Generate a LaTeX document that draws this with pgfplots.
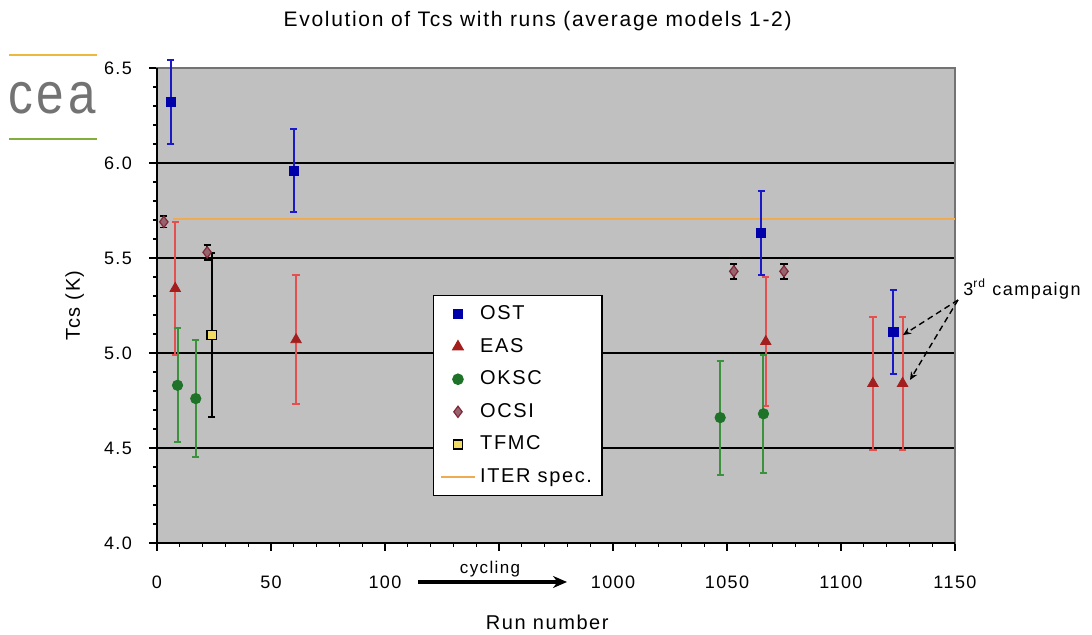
\documentclass[border=0pt]{standalone}
\usepackage{fontspec}
\setmainfont{Liberation Sans}[LetterSpace=8]
\usepackage{pgfplots}
\pgfplotsset{compat=1.18}
\usetikzlibrary{arrows.meta}
\definecolor{bggray}{RGB}{192,192,192}
\definecolor{ostmark}{RGB}{0,0,170}
\definecolor{ostbar}{RGB}{25,25,200}
\definecolor{easmark}{RGB}{165,30,30}
\definecolor{easbar}{RGB}{228,80,80}
\definecolor{oksmark}{RGB}{30,115,40}
\definecolor{oksbar}{RGB}{60,145,60}
\definecolor{ocsifill}{RGB}{150,100,110}
\definecolor{ocsidraw}{RGB}{130,40,55}
\definecolor{tfmcfill}{RGB}{240,220,100}
\definecolor{iter}{RGB}{240,170,80}
\definecolor{logoorange}{RGB}{235,185,60}
\definecolor{logogreen}{RGB}{130,175,60}
\begin{document}
\begin{tikzpicture}[x=1pt,y=1pt]
\useasboundingbox (-78.5,-46) rectangle (467.5,271.5);
\begin{axis}[
  at={(0,0)}, anchor=south west,
  scale only axis, width=399pt, height=237.5pt,
  xmin=0, xmax=350, ymin=4, ymax=6.5,
  enlargelimits=false, clip=false,
  % broken axis: runs 1000..1150 are drawn 800 units to the left
  x filter/.expression={x>500 ? x-800 : x},
  axis background/.style={fill=bggray},
  axis line style={draw=black!55, line width=0.8pt},
  xtick={0,50,100,150,200,250,300,350},
  xticklabels={0,50,100,{},1000,1050,1100,1150},
  minor x tick num=4,
  ytick={4,4.5,5,5.5,6,6.5},
  minor y tick num=4,
  yticklabel style={xshift=-5pt, /pgf/number format/fixed, /pgf/number format/fixed zerofill, /pgf/number format/precision=1},
  /pgf/number format/assume math mode=true,
  tick align=outside,
  major tick length=4pt, minor tick length=2pt,
  tick style={black, line width=0.6pt},
  xtick pos=bottom, ytick pos=left,
  ymajorgrids, major grid style={black, line width=0.9pt},
  tick label style={font=\fontsize{9}{10}\selectfont},
  xticklabel style={yshift=-9pt},
  title={Evolution of Tcs with runs (average models 1-2)},
  title style={at={(axis description cs:0.477,1.102)}, anchor=center, yshift=-6.75pt, font=\fontsize{10.5}{12}\selectfont},
  xlabel={Run number},
  xlabel style={at={(axis description cs:0.489,-0.168)}, anchor=center, font=\fontsize{10}{11}\selectfont},
  ylabel={Tcs (K)},
  ylabel style={at={(axis description cs:-0.103,0.5)}, anchor=center, font=\fontsize{10}{11}\selectfont},
  legend style={at={(0.346,0.522)}, anchor=north west, draw=black, line width=0.6pt, fill=white,
    font=\fontsize{10}{11}\selectfont, row sep=3.8pt, inner sep=3pt},
  legend cell align=left,
]
% ITER spec line (drawn first, legend entry added at the end)
\addplot[iter, line width=1.2pt, forget plot] coordinates {(7,5.705) (1150,5.705)};

% OST
\addplot[ostmark, only marks, mark=square*, mark size=2.3pt,
  mark options={fill=ostmark, draw=ostmark},
  error bars/.cd, y dir=both, y explicit,
  error bar style={ostbar, line width=1pt},
  error mark options={rotate=90, ostbar, mark size=1.8pt, line width=1pt}]
  coordinates {(6,6.32) +- (0,0.22) (60,5.96) +- (0,0.22) (1065,5.63) +- (0,0.22) (1123,5.11) +- (0,0.22)};
\addlegendentry{OST}

% EAS
\addplot[easmark, only marks, mark=triangle*, mark size=3pt,
  mark options={fill=easmark, draw=easmark},
  error bars/.cd, y dir=both, y explicit,
  error bar style={easbar, line width=1pt},
  error mark options={rotate=90, easbar, mark size=1.8pt, line width=1pt}]
  coordinates {(8,5.34) +- (0,0.35) (61,5.07) +- (0,0.34) (1067,5.06) +- (0,0.34) (1114,4.84) +- (0,0.35) (1127,4.84) +- (0,0.35)};
\addlegendentry{EAS}

% OKSC
\addplot[oksmark, only marks, mark=*, mark size=2.6pt,
  mark options={fill=oksmark, draw=oksmark},
  error bars/.cd, y dir=both, y explicit,
  error bar style={oksbar, line width=1pt},
  error mark options={rotate=90, oksbar, mark size=1.8pt, line width=1pt}]
  coordinates {(9,4.83) +- (0,0.30) (17,4.76) +- (0,0.31) (1047,4.66) +- (0,0.30) (1066,4.68) +- (0,0.31)};
\addlegendentry{OKSC}

% OCSI
\addplot[ocsidraw, only marks, mark=diamond*, mark size=2.8pt,
  mark options={fill=ocsifill, draw=ocsidraw, line width=0.6pt},
  error bars/.cd, y dir=both, y explicit,
  error bar style={black, line width=0.9pt},
  error mark options={rotate=90, black, mark size=1.8pt, line width=0.9pt}]
  coordinates {(3,5.69) +- (0,0.03) (22,5.53) +- (0,0.04) (1053,5.43) +- (0,0.04) (1075,5.43) +- (0,0.04)};
\addlegendentry{OCSI}

% TFMC
\addplot[black, only marks, mark=square*, mark size=2.3pt,
  mark options={fill=tfmcfill, draw=black, line width=0.8pt},
  error bars/.cd, y dir=both, y explicit,
  error bar style={black, line width=0.9pt},
  error mark options={rotate=90, black, mark size=1.8pt, line width=0.9pt}]
  coordinates {(24,5.095) +- (0,0.43)};
\addlegendentry{TFMC}

\addlegendimage{iter, line width=1.2pt}
\addlegendentry{ITER spec.}
\end{axis}
% left and bottom axis lines in black
\draw[black, line width=1pt] (0,237.5) -- (0,0) -- (399,0);
% cycling arrow
\draw[black, line width=1.6pt, -{Stealth[length=7pt,width=6pt]}] (130.5,-19.5) -- (205,-19.5);
\node[font=\fontsize{8.5}{9}\selectfont] at (166.5,-13) {cycling};
% 3rd campaign annotation
\node[anchor=west, font=\fontsize{9}{10}\selectfont, inner sep=0pt] at (403,127) {3\textsuperscript{rd} campaign};
\draw[black, densely dashed, line width=0.7pt, -{Stealth[length=4pt,width=3.5pt]}] (400.5,121.5) -- (373,104);
\draw[black, densely dashed, line width=0.7pt, -{Stealth[length=4pt,width=3.5pt]}] (400.5,121.5) -- (376.5,81.5);
% logo
\draw[logoorange, line width=1.2pt] (-74,244) -- (-30,244);
\draw[logogreen, line width=1.2pt] (-74,202) -- (-30,202);
\node[text=black!55, font=\fontsize{29}{29}\selectfont, xscale=0.85] at (-52.5,222.5) {cea};
\end{tikzpicture}
\end{document}
